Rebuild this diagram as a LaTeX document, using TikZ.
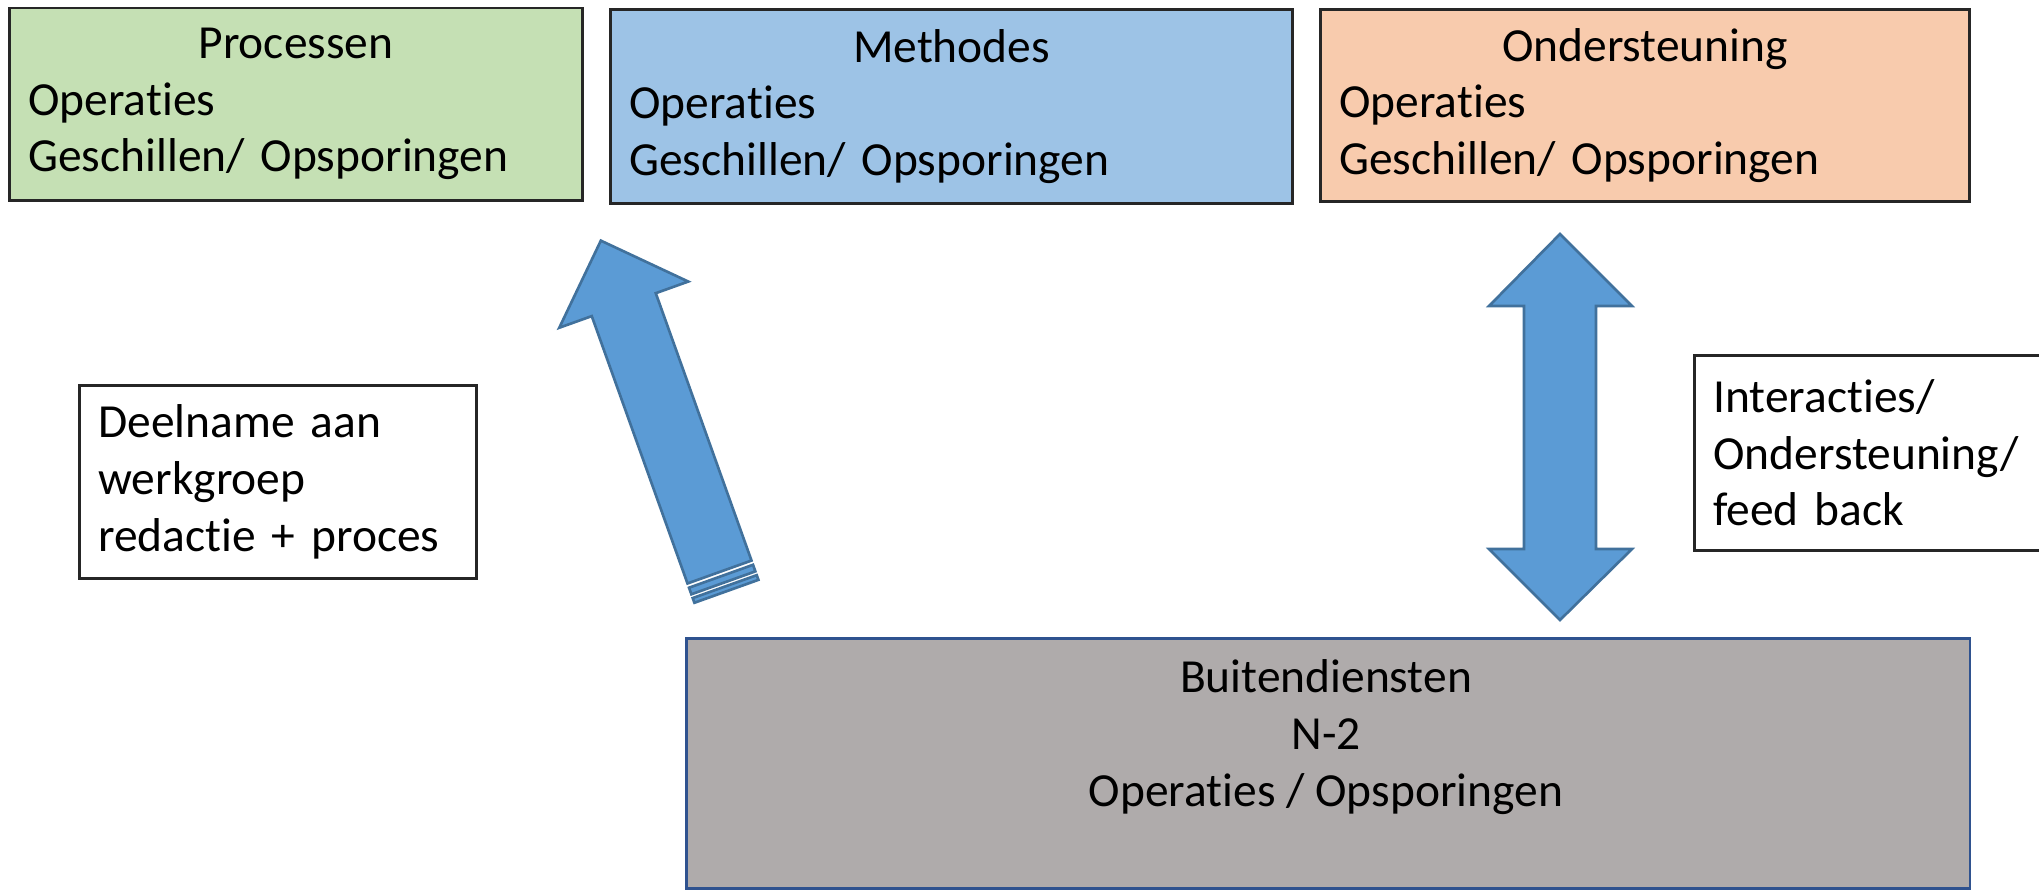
\documentclass[tikz,border=0pt]{standalone}
\usepackage{fontspec}
\setmainfont{Carlito}[Ligatures=NoCommon]
\definecolor{groen}{HTML}{C5E0B4}
\definecolor{blauw}{HTML}{9DC3E6}
\definecolor{oranje}{HTML}{F8CBAD}
\definecolor{grijs}{HTML}{AFABAB}
\definecolor{pijlblauw}{HTML}{5B9BD5}
\definecolor{pijlrand}{HTML}{41719C}
\definecolor{buitenrand}{HTML}{2F528F}

\begin{document}
\begin{tikzpicture}[x=0.01cm, y=-0.01cm,
  kader/.style={draw=black!85, line width=0.75pt, anchor=north west, align=left, inner xsep=0.19cm, font=\fontsize{13.5}{16.1}\selectfont},
  pijl/.style={fill=pijlblauw, draw=pijlrand, line width=0.75pt, line join=miter}]
\useasboundingbox (0,0) rectangle (2039,890);
\clip (0,0) rectangle (2039,890);

% bovenste rij
\node[kader, fill=groen, text width=5.35cm, minimum height=1.925cm] (processen) at (8,6.5) {\makebox[\hsize]{Processen}\\Operaties\\Geschillen/ Opsporingen};
\node[kader, fill=blauw, text width=6.44cm, minimum height=1.94cm] (methodes) at (609,8) {\makebox[\hsize]{Methodes}\\Operaties\\Geschillen/ Opsporingen};
\node[kader, fill=oranje, text width=6.11cm, minimum height=1.92cm] (ondersteuning) at (1319,8) {\makebox[\hsize]{Ondersteuning}\\Operaties\\Geschillen/ Opsporingen};

% losse tekstvakken
\node[kader, text width=3.59cm, minimum height=1.93cm] (deelname) at (78,384) {Deelname aan\\werkgroep\\redactie + proces};
\node[kader, text width=3.69cm, minimum height=1.95cm] (interacties) at (1693,354) {Interacties/\\Ondersteuning/\\feed back};

% onderste vak
\node[kader, draw=buitenrand, fill=grijs, minimum width=12.83cm, minimum height=2.5cm] (buiten) at (685,637) {};
\node[align=center, font=\fontsize{13.5}{16.1}\selectfont] (buitenlbl) at (1326,737) {Buitendiensten\\N-2\\Operaties / Opsporingen};

% pijl naar methodes
\begin{scope}[shift={(719.5,572)}, x=0.01cm, y=0.01cm, rotate=109.7]
\draw[pijl] (0,-34) -- (284,-34) -- (284,-68.5) -- (352,0) -- (284,68.5) -- (284,34) -- (0,34) -- cycle;
\draw[pijl] (-4.5,-34) rectangle (-11.5,34);
\draw[pijl] (-15.5,-34) rectangle (-20.5,34);
\end{scope}

% dubbele pijl
\draw[pijl] (1560,234) -- (1632,306) -- (1596,306) -- (1596,549) -- (1632,549) -- (1560,620) -- (1489,549) -- (1524,549) -- (1524,306) -- (1489,306) -- cycle;
\end{tikzpicture}
\end{document}
